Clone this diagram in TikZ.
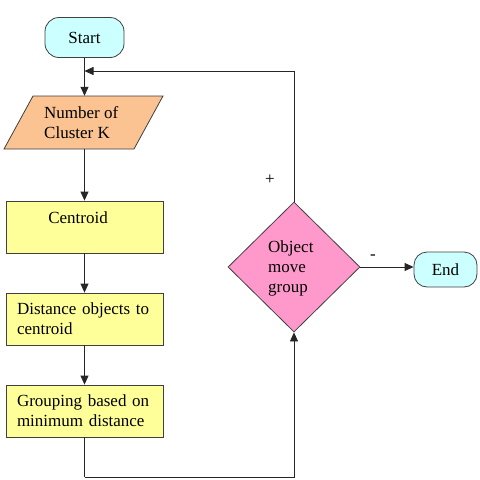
\documentclass[tikz,border=0pt]{standalone}
\usepackage{fontspec}
\setmainfont{Liberation Serif}
\usetikzlibrary{arrows.meta,shapes.geometric}
\definecolor{termfill}{HTML}{CCFFFF}
\definecolor{iofill}{HTML}{FAC391}
\definecolor{procfill}{HTML}{FFFF99}
\definecolor{decfill}{HTML}{FF99CC}
\begin{document}
\begin{tikzpicture}[x=1pt,y=-1pt,
  every node/.style={font=\fontsize{17}{20}\selectfont},
  line/.style={draw=black!85, line width=0.8pt},
  arr/.style={line, -{Triangle[length=9pt,width=8pt]}},
  term/.style={draw=black!75, line width=0.8pt, fill=termfill, rounded corners=14pt, inner sep=0pt},
  procbox/.style={draw=black!75, line width=0.8pt, fill=procfill, minimum width=157pt, minimum height=52pt, inner sep=0pt},
  proctext/.style={procbox, text width=135pt, inner xsep=11pt, align=left},
  txt/.style={inner sep=0pt, align=left}
]
\useasboundingbox (0,0) rectangle (480,480);
% Start
\node[term, minimum width=79pt, minimum height=40pt] (start) at (84.5,37.5) {Start};
% Number of cluster (parallelogram)
\filldraw[draw=black!75, line width=0.8pt, fill=iofill] (33,96) -- (163,96) -- (134,149) -- (4,149) -- cycle;
\node[inner sep=0pt, minimum width=130pt, minimum height=53pt] (num) at (84.5,122.5) {};
\node[txt, anchor=west] at (44,122.5) {Number of\\Cluster K};
% Centroid
\node[procbox] (cent) at (84.5,227) {};
\node[txt] at (78,218) {Centroid};
% Distance
\node[proctext] (dist) at (84.5,319) {Distance objects to\\centroid};
% Grouping
\node[proctext] (group) at (84.5,411) {Grouping based on\\minimum distance};
% Decision
\node[diamond, draw=black!75, line width=0.8pt, fill=decfill, minimum width=132pt, minimum height=130pt, inner sep=0pt] (dia) at (294,267) {};
\node[txt, anchor=west] at (268,268) {Object\\move\\group};
% End
\node[term, rounded corners=13pt, minimum width=63pt, minimum height=35pt] (end) at (445.5,269.5) {End};
% helper coordinates
\coordinate (join) at (84.5,71);
\coordinate (bot) at (84.5,477);
% connectors
\draw[arr] (start.south) -- (num.north);
\draw[line] (start.south) -- (join);
\draw[arr] (dia.north) |- (join);
\draw[arr] (num.south) -- (cent.north);
\draw[arr] (cent.south) -- (dist.north);
\draw[arr] (dist.south) -- (group.north);
\draw[line] (group.south) -- (bot);
\draw[arr] (bot) -| (dia.south);
\draw[arr] (dia.east) -- (end.west |- dia.east);
% labels
\node[txt] at (270,180) {+};
\node[txt] at (373,257) {-};
\end{tikzpicture}
\end{document}
